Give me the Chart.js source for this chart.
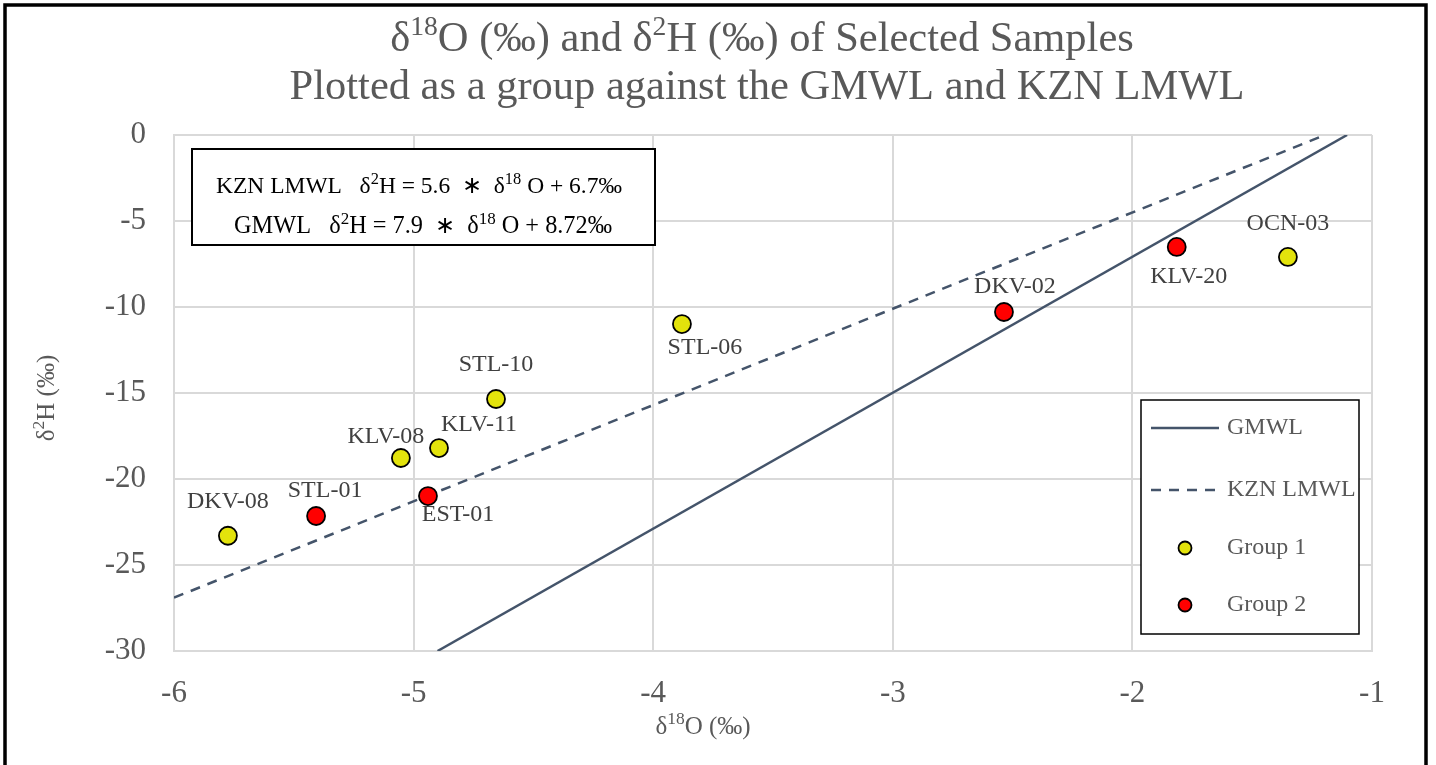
<!DOCTYPE html>
<html><head><meta charset="utf-8">
<script src="https://cdn.jsdelivr.net/npm/chart.js@4/dist/chart.umd.min.js"></script>
<style>html,body{margin:0;padding:0;background:#fff}#wrap{position:relative;width:1436px;height:765px}canvas{display:block}</style>
</head><body><div id="wrap"><canvas id="c" width="1436" height="765"></canvas></div>
<script>
// ---- data ----
const titleLine1 = [['δ'],['18',1],['O (‰) and δ'],['2',1],['H (‰) of Selected Samples']];
const titleLine2 = [['Plotted as a group against the GMWL and KZN LMWL']];
const xTitle = [['δ'],['18',1],['O (‰)']];
const yTitle = [['δ'],['2',1],['H (‰)']];
const eqLine1 = [['KZN LMWL   δ'],['2',1],['H = 5.6  ∗  δ'],['18',1],[' O + 6.7‰']];
const eqLine2 = [['GMWL   δ'],['2',1],['H = 7.9  ∗  δ'],['18',1],[' O + 8.72‰']];
const seriesNames = ['GMWL','KZN LMWL','Group 1','Group 2'];
const gmwlX = [-4.9, -1.104];
const gmwlY = [-30, 0];
const lmwlX = [-6, -1.196];
const lmwlY = [-26.9, 0];
const group1Names = ['DKV-08','KLV-08','KLV-11','STL-10','STL-06','OCN-03'];
const group1X = [-5.775, -5.053, -4.894, -4.656, -3.880, -1.351];
const group1Y = [-23.3, -18.78, -18.2, -15.35, -10.99, -7.09];
const group2Names = ['STL-01','EST-01','DKV-02','KLV-20'];
const group2X = [-5.407, -4.940, -2.536, -1.815];
const group2Y = [-22.15, -20.99, -10.29, -6.51];
const xTicks = [-6,-5,-4,-3,-2,-1];
const yTicks = [0,-5,-10,-15,-20,-25,-30];

// ---- styles ----
const SERIF = '"Liberation Serif","Times New Roman",serif';
const LINE_COLOR = '#44546a';
const TEXT_GREY = '#595959';
const LABEL_GREY = '#404040';
const labelOffsets1 = [[0,-34],[-15,-21],[40,-23],[0,-34],[23,24],[0,-33]];
const labelOffsets2 = [[9,-25],[30,19],[11,-25],[12,30]];

const pts = (xs, ys) => xs.map((x,i)=>({x, y: ys[i]}));

function richWidth(ctx, segs, size, r){
  let w=0;
  for(const s of segs){ const sz = s[1]? size*r : size; ctx.font = sz+'px '+SERIF; w += ctx.measureText(s[0]).width; }
  return w;
}
function drawRich(ctx, segs, x, y, size, color, r){
  r = r || 0.65;
  const w = richWidth(ctx, segs, size, r);
  let cx = x - w/2;
  ctx.fillStyle = color; ctx.textBaseline='middle'; ctx.textAlign='left';
  for(const s of segs){
    const sz = s[1]? size*r : size;
    ctx.font = sz+'px '+SERIF;
    ctx.fillText(s[0], cx, s[1]? y - size*0.3 : y);
    cx += ctx.measureText(s[0]).width;
  }
}

const deco = {
  id:'deco',
  afterDatasetsDraw(chart){
    const ctx = chart.ctx;
    ctx.save();
    ctx.font = '24px '+SERIF; ctx.fillStyle = LABEL_GREY; ctx.textAlign='center'; ctx.textBaseline='middle';
    const m1 = chart.getDatasetMeta(2).data, m2 = chart.getDatasetMeta(3).data;
    group1Names.forEach((n,i)=>{ const p=m1[i]; ctx.fillText(n, p.x+labelOffsets1[i][0], p.y+labelOffsets1[i][1]); });
    group2Names.forEach((n,i)=>{ const p=m2[i]; ctx.fillText(n, p.x+labelOffsets2[i][0], p.y+labelOffsets2[i][1]); });
    ctx.restore();
  },
  afterDraw(chart){
    const ctx = chart.ctx;
    ctx.save();
    // titles
    drawRich(ctx, titleLine1, 762, 40, 42.5, TEXT_GREY);
    drawRich(ctx, titleLine2, 767, 88, 42.5, TEXT_GREY);
    drawRich(ctx, xTitle, 703, 727, 25, TEXT_GREY, 0.7);
    ctx.save(); ctx.translate(47, 398); ctx.rotate(-Math.PI/2);
    drawRich(ctx, yTitle, 0, 0, 25, TEXT_GREY, 0.7); ctx.restore();
    // equation box
    ctx.fillStyle='#fff'; ctx.fillRect(192,149,463,96);
    ctx.strokeStyle='#000'; ctx.lineWidth=2; ctx.strokeRect(192,149,463,96);
    drawRich(ctx, eqLine1, 419, 187, 23.5, '#000', 0.7);
    drawRich(ctx, eqLine2, 423, 227, 24.3, '#000', 0.7);
    // legend
    const lx=1141, ly=400, lw=218, lh=234;
    ctx.fillStyle='#fff'; ctx.fillRect(lx,ly,lw,lh);
    ctx.strokeStyle='#000'; ctx.lineWidth=1.5; ctx.strokeRect(lx,ly,lw,lh);
    const rows=[428,490,548,605];
    chart.data.datasets.forEach((ds,i)=>{
      const y=rows[i];
      if(ds.showLine){
        ctx.strokeStyle=ds.borderColor; ctx.lineWidth=ds.borderWidth; ctx.setLineDash(ds.borderDash||[]);
        ctx.beginPath(); ctx.moveTo(1151,y); ctx.lineTo(1219,y); ctx.stroke(); ctx.setLineDash([]);
      } else {
        ctx.fillStyle=ds.backgroundColor; ctx.strokeStyle=ds.borderColor; ctx.lineWidth=ds.borderWidth;
        ctx.beginPath(); ctx.arc(1185,y,6.5,0,Math.PI*2); ctx.fill(); ctx.stroke();
      }
      ctx.fillStyle=TEXT_GREY; ctx.font='24px '+SERIF; ctx.textAlign='left'; ctx.textBaseline='middle';
      ctx.fillText(ds.label, 1227, y);
    });
    // outer border
    ctx.strokeStyle='#000'; ctx.lineWidth=3.5; ctx.strokeRect(5,5,1421,770);
    ctx.restore();
  }
};

new Chart(document.getElementById('c'), {
  type:'scatter',
  data:{ datasets:[
    {label:seriesNames[0], data:pts(gmwlX,gmwlY), showLine:true, borderColor:LINE_COLOR, borderWidth:2.5, pointRadius:0, order:3},
    {label:seriesNames[1], data:pts(lmwlX,lmwlY), showLine:true, borderColor:LINE_COLOR, borderWidth:2.5, borderDash:[10,8], pointRadius:0, order:2},
    {label:seriesNames[2], data:pts(group1X,group1Y), backgroundColor:'#e3e30c', borderColor:'#000', borderWidth:1.8, pointRadius:9, order:1},
    {label:seriesNames[3], data:pts(group2X,group2Y), backgroundColor:'#ff0000', borderColor:'#000', borderWidth:1.8, pointRadius:9, order:0}
  ]},
  options:{
    responsive:false, animation:false, events:[],
    layout:{padding:{left:0, top:135, right:64, bottom:0}},
    plugins:{legend:{display:false}, title:{display:false}, tooltip:{enabled:false}},
    scales:{
      x:{type:'linear', min:-6, max:-1,
        afterBuildTicks(s){ s.ticks = xTicks.map(v=>({value:v})); },
        afterFit(s){ s.height = 114; s.paddingLeft=0; s.paddingRight=0; },
        grid:{color:'#d9d9d9', lineWidth:2, drawTicks:false},
        border:{color:'#d9d9d9', width:2},
        ticks:{padding:24, color:TEXT_GREY, font:{family:SERIF, size:31}, callback:v=>String(v)}},
      y:{type:'linear', min:-30, max:0,
        afterBuildTicks(s){ s.ticks = yTicks.map(v=>({value:v})); },
        afterFit(s){ s.width = 174; s.paddingTop=0; s.paddingBottom=0; },
        grid:{color:'#d9d9d9', lineWidth:2, drawTicks:false},
        border:{color:'#d9d9d9', width:2},
        ticks:{padding:28, color:TEXT_GREY, font:{family:SERIF, size:31}, callback:v=>String(v)}}
    }
  },
  plugins:[deco]
});
</script></body></html>
